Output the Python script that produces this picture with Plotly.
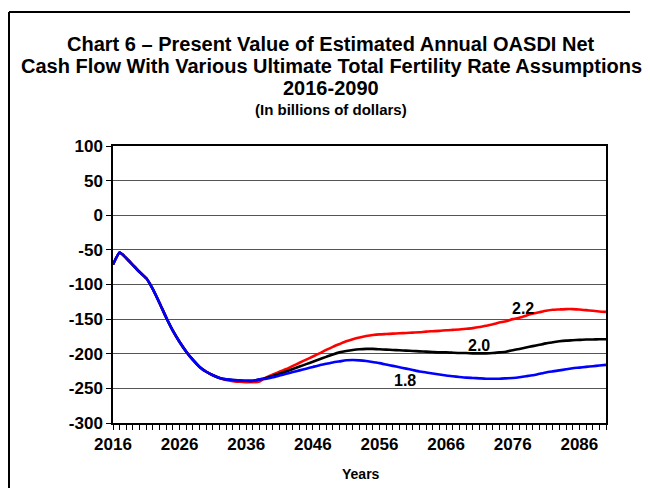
import plotly.graph_objects as go

years = list(range(2016, 2091))

common_early = [-71, -54, -62, -72, -82, -91, -107, -127, -148, -167, -183, -197, -209, -219,
                -226, -231, -235, -237, -238, -238.5, -239, -239, -237]  # 2016-2038

red_bottom = [-238, -239.5, -240.5, -241, -241, -240]  # 2033-2038
red_late = [-234, -230, -226, -222, -217.5, -213, -208.5, -204, -199.5, -194.5, -190, -186,
            -182, -179, -176.5, -174.5, -173, -172, -171.5, -171, -170.5, -170, -169.5, -169,
            -168, -167.5, -167, -166, -165.5, -165, -164, -163, -161.5, -159.5, -157.5, -155,
            -153, -150, -148, -145, -142, -140, -138, -136.5, -136, -135.5, -135.5, -136, -137,
            -138, -139, -139.5]  # 2039-2090
black_late = [-235, -232, -229, -225.5, -222, -218.5, -215, -211.5, -208, -204.5, -201, -198,
              -196, -194.5, -193.5, -193, -193, -193.5, -194, -194.5, -195, -195.5, -196, -196.5,
              -197, -197.5, -198, -198, -198.5, -199, -199, -199.5, -199.5, -199.5, -199, -198,
              -197, -195, -193, -191, -189, -187, -185, -183.5, -182, -181, -180.5, -180, -179.5,
              -179.5, -179, -179]
blue_late = [-236, -234, -231.5, -229, -226.5, -224, -221.5, -219, -216.5, -214.5, -212.5, -211,
             -209.5, -209, -209.5, -210.5, -212, -213.5, -215.5, -217.5, -219.5, -221.5, -223.5,
             -225.5, -227, -228.5, -230, -231.5, -232.5, -233.5, -234.5, -235, -235.5, -236, -236,
             -236, -235.5, -235, -234, -232.5, -231, -229, -227, -225.5, -224, -222.5, -221, -220,
             -219, -218, -217, -216]

tfr_22 = common_early[:17] + red_bottom + red_late
tfr_20 = common_early + black_late
tfr_18 = common_early + blue_late

series = [("2.2", tfr_22, "#ff0000"), ("2.0", tfr_20, "#000000"), ("1.8", tfr_18, "#0000ff")]
label_pos = {"2.2": (2077.5, -134), "2.0": (2070.9, -188), "1.8": (2059.8, -238)}

y_tick_vals = [100, 50, 0, -50, -100, -150, -200, -250, -300]
y_tick_text = ["100", "50", "0", "-50", "-100", "-150", "-200", "-250", "-300"]
x_tick_vals = [2016, 2026, 2036, 2046, 2056, 2066, 2076, 2086]

FONT = "Liberation Sans, Arial, sans-serif"

# page pixel -> paper coords (plot area spans x 113..606, y 146..423 on the page)
def px(X):
    return (X - 113) / 493.0

def py(Y):
    return (423 - Y) / 277.0

fig = go.Figure()
for name, vals, col in series:
    fig.add_trace(go.Scatter(x=years, y=vals, mode="lines",
                             line=dict(color=col, width=2.6, shape="spline", smoothing=0.5),
                             name=name, showlegend=False, hoverinfo="x+y"))
for name, (lx, ly) in label_pos.items():
    fig.add_annotation(x=lx, y=ly, text="<b>%s</b>" % name, showarrow=False,
                       font=dict(size=16, color="black", family=FONT))

titles = [("<b>Chart 6 – Present Value of Estimated Annual OASDI Net</b>", 44, 20),
          ("<b>Cash Flow With Various Ultimate Total Fertility Rate Assumptions</b>", 66, 20),
          ("<b>2016-2090</b>", 88, 20),
          ("<b>(In billions of dollars)</b>", 110, 15)]
for txt, yy, sz in titles:
    fig.add_annotation(xref="paper", yref="paper", x=px(331), y=py(yy), xanchor="center",
                       yanchor="middle", text=txt, showarrow=False,
                       font=dict(size=sz, family=FONT, color="black"))

fig.add_annotation(xref="paper", yref="paper", x=px(361), y=py(474), xanchor="center",
                   yanchor="middle", text="<b>Years</b>", showarrow=False,
                   font=dict(size=14, family=FONT, color="black"))

# outer frame: only its left and top edges fall inside the view
fig.add_shape(type="line", xref="paper", yref="paper",
              x0=px(9), x1=px(9), y0=py(488), y1=py(12),
              line=dict(color="black", width=2), layer="below")
fig.add_shape(type="line", xref="paper", yref="paper",
              x0=px(9), x1=px(630), y0=py(12), y1=py(12),
              line=dict(color="black", width=2), layer="below")

fig.update_layout(
    width=634, height=481,
    margin=dict(l=105, r=36, t=138, b=66),
    paper_bgcolor="white", plot_bgcolor="white",
    font=dict(family=FONT, color="black"),
    xaxis=dict(range=[2016, 2090], tickvals=x_tick_vals,
               ticktext=["<b>%d</b>" % v for v in x_tick_vals],
               ticks="outside", ticklen=5, tickcolor="black", showgrid=False,
               showline=True, linecolor="black", linewidth=1.5, mirror=True,
               tickfont=dict(size=17, family=FONT),
               minor=dict(dtick=1, tick0=2016, ticks="outside", ticklen=5, tickcolor="black"),
               zeroline=False),
    yaxis=dict(range=[-300, 100], tickvals=y_tick_vals,
               ticktext=["<b>%s</b>" % t for t in y_tick_text],
               ticks="outside", ticklen=5, tickcolor="black",
               showgrid=True, gridcolor="#555555", gridwidth=1, showline=True,
               linecolor="black", linewidth=1.5, mirror=True,
               tickfont=dict(size=17, family=FONT), zeroline=False),
)

fig.write_html("out.html", config={"displayModeBar": False})
